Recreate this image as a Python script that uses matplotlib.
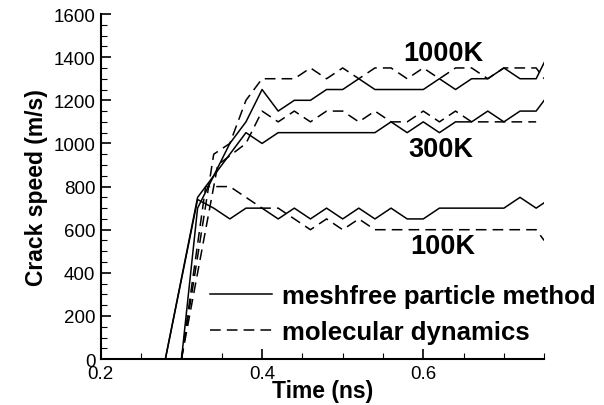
import matplotlib
matplotlib.use("Agg")
import matplotlib.pyplot as plt
from matplotlib.ticker import MultipleLocator

plt.rcParams['font.family'] = ['Liberation Sans', 'DejaVu Sans']

# meshfree particle method (solid)
t_mf_100 = [0.28, 0.32, 0.34, 0.36, 0.38, 0.40, 0.42, 0.44, 0.46, 0.48, 0.50, 0.52,
            0.54, 0.56, 0.58, 0.60, 0.62, 0.64, 0.66, 0.68, 0.70, 0.72, 0.74, 0.75]
v_mf_100 = [0, 740, 700, 650, 700, 700, 650, 700, 650, 700, 650, 700,
            650, 700, 650, 650, 700, 700, 700, 700, 700, 750, 700, 725]

t_mf_300 = [0.30, 0.32, 0.34, 0.36, 0.38, 0.40, 0.42, 0.44, 0.46, 0.48, 0.50, 0.52,
            0.54, 0.56, 0.58, 0.60, 0.62, 0.64, 0.66, 0.68, 0.70, 0.72, 0.74, 0.75]
v_mf_300 = [0, 700, 850, 950, 1050, 1000, 1050, 1050, 1050, 1050, 1050, 1050,
            1050, 1100, 1050, 1100, 1050, 1100, 1100, 1150, 1100, 1150, 1150, 1200]

t_mf_1000 = [0.28, 0.32, 0.34, 0.36, 0.38, 0.40, 0.42, 0.44, 0.46, 0.48, 0.50, 0.52,
             0.54, 0.56, 0.58, 0.60, 0.62, 0.64, 0.66, 0.68, 0.70, 0.72, 0.74, 0.75]
v_mf_1000 = [0, 750, 850, 1000, 1100, 1250, 1150, 1200, 1200, 1250, 1250, 1300,
             1250, 1250, 1250, 1250, 1300, 1250, 1300, 1300, 1350, 1300, 1300, 1375]

# molecular dynamics (dashed)
t_md_100 = [0.30, 0.33, 0.36, 0.38, 0.40, 0.42, 0.44, 0.46, 0.48, 0.50, 0.52, 0.54, 0.74, 0.75]
v_md_100 = [0, 800, 800, 750, 700, 700, 650, 600, 650, 600, 650, 600, 600, 550]

t_md_300 = [0.30, 0.345, 0.38, 0.40, 0.42, 0.44, 0.46, 0.48, 0.50, 0.52, 0.54, 0.56,
            0.58, 0.60, 0.62, 0.64, 0.66, 0.74]
v_md_300 = [0, 900, 1000, 1150, 1100, 1150, 1100, 1150, 1150, 1100, 1150, 1100,
            1100, 1150, 1100, 1150, 1100, 1100]

t_md_1000 = [0.30, 0.34, 0.36, 0.38, 0.40, 0.44, 0.46, 0.48, 0.50, 0.52, 0.54, 0.56,
             0.58, 0.60, 0.62, 0.64, 0.66, 0.68, 0.70, 0.72, 0.74, 0.75]
v_md_1000 = [0, 950, 1000, 1200, 1300, 1300, 1350, 1300, 1350, 1300, 1350, 1350,
             1300, 1350, 1300, 1350, 1350, 1300, 1350, 1350, 1350, 1300]

temp_labels = ['1000K', '300K', '100K']
label_pos = [(0.575, 1385), (0.581, 940), (0.584, 490)]

fig = plt.figure(figsize=(6.04, 4.06), dpi=100)
ax = fig.add_axes([0.167, 0.113, 0.734, 0.85])

dash = (7, 4)
ax.plot(t_mf_1000, v_mf_1000, color='black', lw=1.1, label='meshfree particle method')
ax.plot(t_mf_300, v_mf_300, color='black', lw=1.1)
ax.plot(t_mf_100, v_mf_100, color='black', lw=1.1)
ax.plot(t_md_1000, v_md_1000, color='black', lw=1.1, dashes=dash, label='molecular dynamics')
ax.plot(t_md_300, v_md_300, color='black', lw=1.1, dashes=dash)
ax.plot(t_md_100, v_md_100, color='black', lw=1.1, dashes=dash)

for lab, (x, y) in zip(temp_labels, label_pos):
    ax.text(x, y, lab, fontsize=19.5, fontweight='bold', ha='left', va='baseline')

ax.set_xlim(0.2, 0.75)
ax.set_ylim(0, 1600)
ax.xaxis.set_major_locator(MultipleLocator(0.2))
ax.xaxis.set_minor_locator(MultipleLocator(0.05))
ax.yaxis.set_major_locator(MultipleLocator(200))
ax.yaxis.set_minor_locator(MultipleLocator(50))
ax.spines['top'].set_visible(False)
ax.spines['right'].set_visible(False)
for s in ['left', 'bottom']:
    ax.spines[s].set_linewidth(1.5)
ax.tick_params(which='major', direction='in', length=7, width=1.2, labelsize=13.5, pad=4)
ax.tick_params(which='minor', direction='in', length=4, width=0.8)

ax.set_xlabel('Time (ns)', fontsize=16.5, fontweight='bold', labelpad=-2)
ax.set_ylabel('Crack speed (m/s)', fontsize=16.5, fontweight='bold', labelpad=4)

leg = ax.legend(loc='lower left', bbox_to_anchor=(0.218, 0.008), frameon=False,
                handlelength=2.4, handletextpad=0.4, labelspacing=0.44, borderpad=0,
                prop={'size': 18.5, 'weight': 'bold'})

fig.savefig('out.png', dpi=100)
